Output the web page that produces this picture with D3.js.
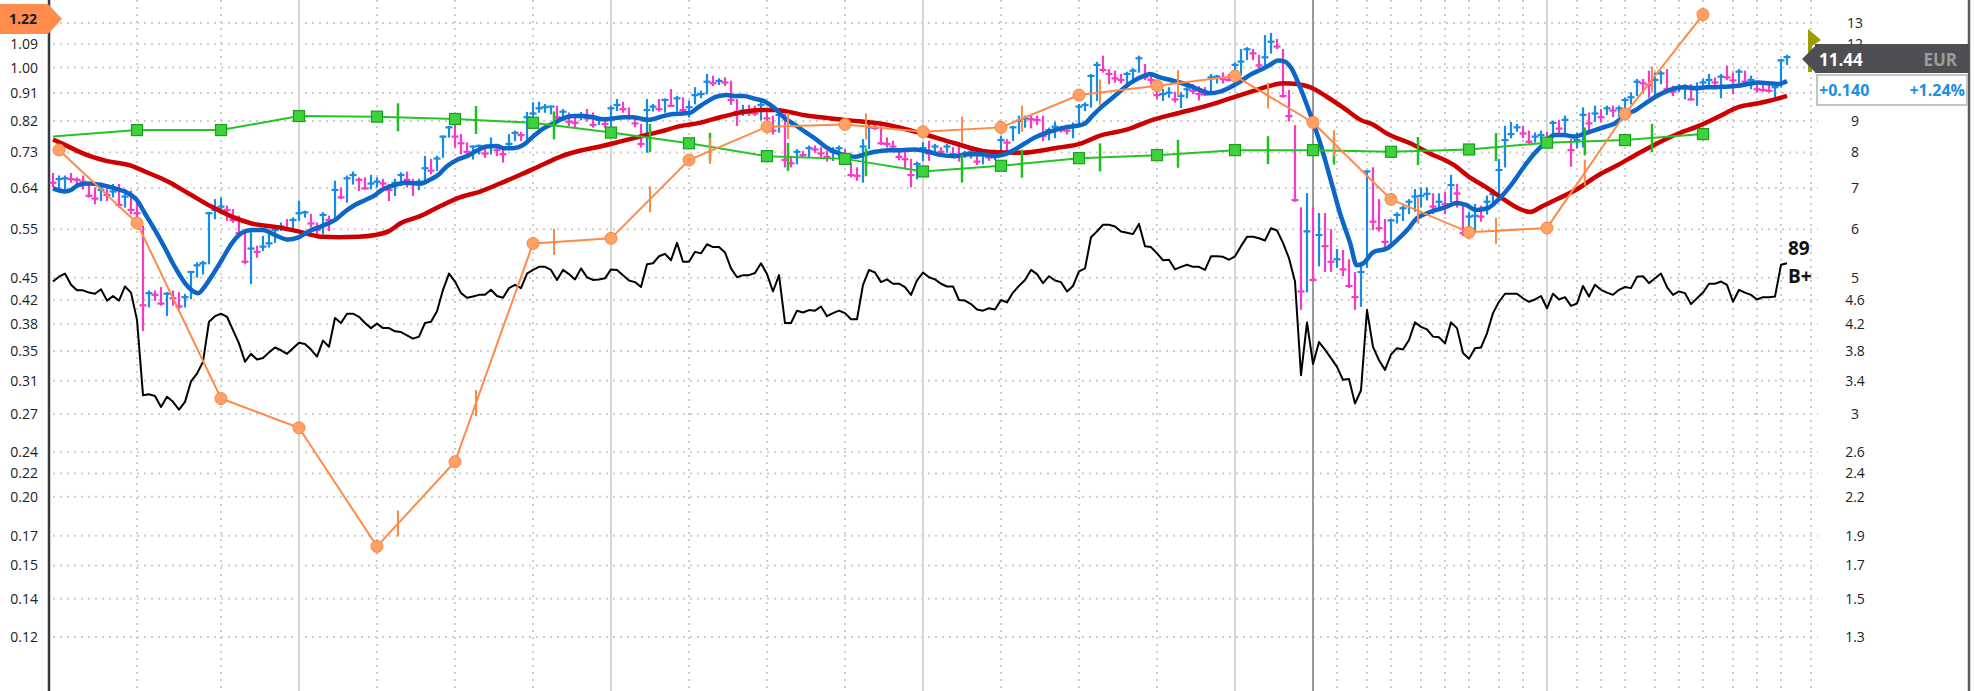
<!DOCTYPE html>
<html>
<head>
<meta charset="utf-8">
<script src="https://cdnjs.cloudflare.com/ajax/libs/d3/7.8.5/d3.min.js"></script>
<style>
  body { margin: 0; background: #fff; }
  svg { display: block; font-family: 'Open Sans', sans-serif; }
</style>
</head>
<body>
<script>
// price axis grid values and the matching EPS labels on the left
const rightTicks = [13, 12, 11, 10, 9, 8, 7, 6, 5, 4.6, 4.2, 3.8, 3.4, 3, 2.6, 2.4, 2.2, 1.9, 1.7, 1.5, 1.3];
// 11 and 10 sit under the price box, so they are left blank
const rightTickLabels = ['13', '12', '', '', '9', '8', '7', '6', '5', '4.6', '4.2', '3.8', '3.4', '3',
  '2.6', '2.4', '2.2', '1.9', '1.7', '1.5', '1.3'];
const leftTickLabels = ['', '1.09', '1.00', '0.91', '0.82', '0.73', '0.64', '0.55', '0.45', '0.42', '0.38',
  '0.35', '0.31', '0.27', '0.24', '0.22', '0.20', '0.17', '0.15', '0.14', '0.12'];
const epsRatio = 11;

// vertical grid, in week numbers
const quarterGrid = [14, 28, 54, 67, 80, 106, 119, 132, 158, 171, 184];
const yearGrid = [41, 93, 145, 197, 249];
const markGrid = [210];
const monthGrid = [214, 219, 223, 228, 232, 236, 241, 245, 254, 258, 262, 267, 271, 275, 280, 284, 288, 293];

// weekly bars
const priorClose = 7.25;
const barHigh = [
  7.38, 7.31, 7.31, 7.38, 7.26, 7.31, 7.08, 6.99, 7.12, 7.04,
  7.08, 7.08, 6.95, 6.91, 6.69, 6.06, 4.75, 4.75, 4.81, 4.72,
  4.75, 4.72, 4.69, 5.11, 5.28, 5.31, 6.37, 6.69, 6.73, 6.53,
  6.45, 6.29, 5.91, 5.91, 5.62, 5.83, 5.91, 6.06, 6.13, 6.21,
  6.25, 6.65, 6.41, 6.33, 6.13, 6.37, 6.29, 7.17, 6.99, 7.31,
  7.42, 7.26, 7.26, 7.33, 7.26, 7.22, 7.08, 7.22, 7.40, 7.42,
  7.22, 7.22, 7.87, 7.78, 7.87, 8.49, 8.81, 8.87, 8.54, 8.28,
  8.18, 8.21, 8.13, 8.43, 8.13, 8.07, 8.54, 8.65, 8.61, 9.28,
  9.62, 9.64, 9.56, 9.50, 9.50, 9.38, 9.26, 9.21, 9.28, 9.38,
  9.26, 9.09, 9.04, 9.50, 9.74, 9.64, 9.44, 9.09, 8.87, 9.74,
  9.56, 9.74, 9.76, 10.11, 9.86, 9.80, 9.68, 10.18, 10.05, 10.70,
  10.63, 10.53, 10.56, 10.43, 9.74, 9.53, 9.53, 9.50, 9.74, 9.26,
  9.15, 9.32, 9.21, 7.87, 8.07, 8.02, 8.18, 8.18, 8.13, 8.02,
  8.13, 8.18, 8.07, 7.68, 7.54, 8.38, 8.87, 8.90, 8.79, 8.43,
  8.33, 8.09, 8.02, 7.78, 7.70, 8.28, 8.33, 8.23, 8.13, 8.23,
  8.13, 8.28, 8.02, 8.07, 7.97, 7.97, 7.97, 8.02, 8.49, 8.38,
  8.81, 9.15, 9.15, 9.15, 9.15, 9.15, 8.75, 8.94, 8.81, 8.81,
  8.92, 9.56, 9.62, 10.70, 11.20, 11.46, 10.90, 10.83, 10.70, 10.79,
  10.93, 11.46, 11.11, 10.66, 10.14, 10.11, 10.18, 10.01, 9.99, 10.22,
  10.30, 10.22, 10.18, 10.70, 10.66, 10.76, 10.70, 11.17, 11.75, 11.83,
  11.75, 11.49, 12.38, 12.48, 12.20, 11.75, 10.08, 8.83, 6.49, 6.84,
  6.49, 6.35, 6.35, 5.98, 5.55, 5.53, 5.34, 5.09, 5.28, 7.45,
  7.54, 6.69, 6.21, 6.21, 6.37, 6.53, 6.69, 6.95, 6.99, 6.99,
  6.84, 6.84, 6.88, 7.33, 7.08, 6.61, 6.37, 6.57, 6.53, 6.78,
  6.95, 7.78, 8.81, 8.94, 8.87, 8.81, 8.65, 8.59, 8.65, 8.61,
  8.98, 9.01, 9.15, 8.38, 8.59, 9.44, 9.26, 9.50, 9.38, 9.50,
  9.50, 9.50, 9.80, 9.99, 10.50, 10.50, 10.83, 10.76, 10.83, 10.90,
  10.24, 10.30, 10.30, 10.30, 10.37, 10.50, 10.70, 10.56, 10.70, 11.04,
  10.76, 10.90, 10.83, 10.63, 10.43, 10.37, 10.30, 10.30, 11.32, 11.50,
];
const barLow = [
  7.04, 6.99, 6.95, 7.17, 7.12, 6.99, 6.78, 6.61, 6.69, 6.69,
  6.78, 6.53, 6.53, 6.37, 6.29, 4.11, 4.49, 4.60, 4.52, 4.35,
  4.52, 4.46, 4.49, 4.63, 5.02, 5.08, 5.28, 6.25, 6.37, 6.21,
  6.17, 5.91, 5.28, 4.90, 5.41, 5.55, 5.62, 5.72, 5.98, 5.98,
  5.98, 6.21, 6.29, 6.06, 5.91, 5.91, 5.98, 6.21, 6.74, 6.65,
  7.12, 6.95, 6.99, 6.99, 7.04, 6.95, 6.69, 6.82, 7.08, 7.04,
  6.82, 6.97, 7.22, 7.40, 7.49, 7.87, 8.49, 8.18, 7.97, 7.92,
  7.82, 7.97, 7.87, 7.97, 7.92, 7.73, 8.18, 8.38, 8.38, 8.41,
  9.15, 9.32, 9.32, 9.26, 9.09, 9.04, 8.87, 8.81, 9.06, 9.02,
  8.81, 8.90, 8.81, 8.81, 9.38, 9.32, 9.09, 8.83, 8.18, 8.02,
  9.36, 9.36, 9.32, 9.53, 9.36, 9.32, 9.15, 9.62, 9.84, 9.99,
  10.30, 10.34, 10.30, 9.60, 8.87, 9.21, 9.21, 9.21, 9.06, 8.81,
  8.59, 8.65, 7.59, 7.59, 7.68, 7.87, 7.89, 8.02, 7.89, 7.76,
  7.78, 7.87, 7.85, 7.31, 7.22, 7.17, 8.13, 8.74, 8.26, 8.18,
  8.13, 7.80, 7.54, 7.04, 7.26, 7.78, 7.78, 7.99, 7.92, 8.02,
  7.87, 7.76, 7.87, 7.85, 7.66, 7.68, 7.78, 7.80, 8.07, 8.05,
  8.38, 8.61, 8.81, 8.79, 8.90, 8.38, 8.40, 8.47, 8.65, 8.59,
  8.47, 8.92, 9.38, 9.50, 9.74, 10.83, 10.37, 10.43, 10.40, 10.30,
  10.50, 10.83, 10.53, 10.37, 9.80, 9.74, 9.86, 9.68, 9.48, 9.84,
  9.99, 9.76, 9.92, 9.96, 10.40, 10.40, 10.48, 10.56, 10.72, 11.35,
  11.35, 11.01, 11.15, 11.63, 11.83, 9.86, 9.02, 6.67, 4.45, 4.75,
  4.95, 5.24, 5.13, 5.13, 5.21, 5.05, 4.83, 4.45, 4.50, 5.21,
  6.00, 5.97, 5.60, 5.68, 6.15, 6.21, 6.37, 6.43, 6.53, 6.71,
  6.37, 6.51, 6.37, 6.67, 6.53, 5.87, 5.91, 5.98, 6.19, 6.36,
  6.60, 6.69, 7.59, 8.47, 8.68, 8.47, 8.30, 8.33, 8.36, 8.28,
  8.47, 8.59, 8.59, 7.61, 8.16, 8.18, 8.68, 9.01, 8.98, 9.24,
  9.17, 9.17, 9.36, 9.62, 9.92, 10.01, 9.86, 9.96, 10.37, 10.11,
  9.92, 10.08, 9.80, 9.76, 9.56, 10.14, 10.30, 10.22, 9.84, 10.53,
  9.99, 10.34, 10.27, 10.18, 10.05, 10.08, 10.05, 9.80, 10.24, 11.15,
];
const barClose = [
  7.14, 7.24, 7.26, 7.24, 7.22, 7.17, 6.80, 6.73, 6.95, 6.82,
  6.91, 6.57, 6.78, 6.45, 6.37, 4.51, 4.72, 4.69, 4.54, 4.71,
  4.63, 4.49, 4.65, 5.11, 5.24, 5.28, 6.37, 6.45, 6.53, 6.45,
  6.21, 5.91, 5.31, 5.58, 5.51, 5.62, 5.69, 5.98, 6.06, 6.02,
  6.21, 6.37, 6.39, 6.13, 5.98, 6.33, 6.21, 6.95, 6.76, 7.26,
  7.35, 7.22, 6.99, 7.12, 7.17, 7.12, 6.95, 7.14, 7.35, 7.22,
  7.14, 7.17, 7.54, 7.47, 7.82, 8.49, 8.79, 8.49, 8.28, 8.02,
  8.18, 8.20, 7.97, 8.18, 8.07, 7.95, 8.26, 8.61, 8.54, 9.13,
  9.26, 9.44, 9.48, 9.50, 9.13, 9.32, 8.98, 8.94, 9.21, 9.09,
  8.87, 9.04, 8.90, 9.44, 9.56, 9.41, 9.15, 8.92, 8.26, 9.38,
  9.50, 9.41, 9.74, 9.53, 9.80, 9.38, 9.48, 9.92, 9.96, 10.43,
  10.37, 10.46, 10.40, 9.74, 9.32, 9.36, 9.28, 9.26, 9.56, 9.09,
  8.68, 9.21, 7.78, 7.68, 8.02, 7.92, 8.13, 8.09, 7.97, 7.87,
  8.02, 8.13, 7.95, 7.35, 7.33, 8.18, 8.79, 8.77, 8.28, 8.26,
  8.18, 7.87, 7.80, 7.35, 7.66, 8.13, 7.97, 8.18, 8.02, 8.18,
  7.95, 7.89, 7.97, 8.02, 7.73, 7.92, 7.85, 7.95, 8.38, 8.30,
  8.79, 9.01, 9.09, 9.06, 9.04, 8.51, 8.70, 8.81, 8.70, 8.68,
  8.81, 9.50, 9.56, 10.66, 11.11, 10.90, 10.74, 10.56, 10.50, 10.74,
  10.87, 11.39, 10.60, 10.50, 9.92, 9.96, 10.01, 9.76, 9.89, 10.14,
  10.08, 9.96, 9.94, 10.60, 10.63, 10.53, 10.50, 11.11, 11.25, 11.78,
  11.60, 11.09, 11.43, 12.12, 11.90, 9.89, 9.17, 6.69, 4.75, 5.95,
  4.96, 5.87, 5.63, 5.31, 5.36, 5.16, 4.85, 4.65, 5.11, 7.45,
  6.17, 6.02, 5.72, 6.20, 6.33, 6.49, 6.65, 6.78, 6.80, 6.85,
  6.53, 6.65, 6.59, 7.08, 6.86, 5.91, 6.29, 6.31, 6.29, 6.65,
  6.84, 7.49, 8.38, 8.57, 8.79, 8.59, 8.33, 8.49, 8.54, 8.36,
  8.94, 8.75, 9.04, 8.07, 8.38, 9.21, 8.92, 9.26, 9.13, 9.44,
  9.36, 9.44, 9.74, 9.84, 10.43, 10.37, 10.30, 10.50, 10.76, 10.14,
  10.05, 10.22, 10.24, 9.76, 10.22, 10.40, 10.50, 10.40, 10.63, 10.60,
  10.48, 10.83, 10.43, 10.50, 10.14, 10.11, 10.08, 10.22, 11.30, 11.44,
];

// relative strength line, read against the price axis
const rsLine = [
  4.93, 5.02, 5.08, 4.87, 4.77, 4.77, 4.73, 4.71, 4.79, 4.59,
  4.67, 4.59, 4.84, 4.73, 4.27, 3.22, 3.23, 3.21, 3.08, 3.20,
  3.14, 3.05, 3.14, 3.39, 3.49, 3.65, 4.24, 4.33, 4.37, 4.32,
  4.11, 3.91, 3.65, 3.76, 3.68, 3.70, 3.78, 3.85, 3.81, 3.76,
  3.84, 3.92, 3.90, 3.82, 3.72, 3.95, 3.86, 4.30, 4.22, 4.37,
  4.37, 4.32, 4.22, 4.14, 4.21, 4.14, 4.14, 4.09, 4.08, 4.03,
  3.98, 4.01, 4.22, 4.24, 4.41, 4.78, 5.08, 4.93, 4.72, 4.64,
  4.66, 4.69, 4.69, 4.78, 4.67, 4.64, 4.81, 4.87, 4.81, 5.08,
  5.15, 5.21, 5.21, 5.15, 4.96, 5.15, 5.07, 4.97, 5.18, 5.01,
  4.96, 4.97, 4.99, 5.16, 5.15, 5.05, 4.95, 4.92, 4.83, 5.26,
  5.28, 5.42, 5.47, 5.34, 5.70, 5.31, 5.31, 5.51, 5.48, 5.67,
  5.61, 5.61, 5.50, 5.18, 5.01, 5.05, 5.05, 5.09, 5.28, 5.07,
  4.75, 5.05, 4.22, 4.22, 4.42, 4.39, 4.43, 4.42, 4.49, 4.33,
  4.38, 4.42, 4.38, 4.28, 4.28, 4.87, 5.15, 5.10, 4.92, 4.97,
  4.89, 4.89, 4.83, 4.69, 4.95, 5.10, 5.01, 4.97, 4.89, 4.84,
  4.84, 4.60, 4.59, 4.53, 4.44, 4.42, 4.46, 4.44, 4.60, 4.56,
  4.73, 4.85, 4.96, 5.15, 5.07, 4.90, 5.03, 4.95, 4.92, 4.75,
  4.85, 5.12, 5.18, 5.82, 5.95, 6.10, 6.10, 6.06, 5.95, 5.92,
  5.89, 6.12, 5.63, 5.61, 5.48, 5.34, 5.35, 5.16, 5.21, 5.25,
  5.21, 5.21, 5.15, 5.42, 5.42, 5.41, 5.35, 5.42, 5.63, 5.83,
  5.83, 5.80, 5.75, 6.02, 5.97, 5.70, 5.38, 4.93, 3.47, 4.23,
  3.62, 3.93, 3.82, 3.70, 3.58, 3.41, 3.42, 3.12, 3.28, 4.43,
  3.86, 3.67, 3.54, 3.75, 3.84, 3.82, 3.96, 4.23, 4.16, 4.12,
  4.01, 4.00, 3.91, 4.23, 4.14, 3.77, 3.69, 3.84, 3.85, 4.06,
  4.38, 4.57, 4.71, 4.71, 4.71, 4.63, 4.57, 4.61, 4.67, 4.46,
  4.71, 4.61, 4.65, 4.50, 4.54, 4.85, 4.66, 4.87, 4.78, 4.73,
  4.69, 4.78, 4.83, 4.81, 5.02, 5.03, 4.90, 4.99, 5.08, 4.83,
  4.69, 4.75, 4.72, 4.53, 4.63, 4.73, 4.89, 4.89, 4.93, 4.87,
  4.57, 4.78, 4.73, 4.69, 4.61, 4.65, 4.65, 4.66, 5.25, 5.28,
];

// moving averages, [week, price]
const ma10Points = [
  [0, 6.99], [2, 6.91], [3, 6.95], [4.2, 7.08], [5.9, 7.12], [8.1, 7.08], [10.3, 6.99], [12.6, 6.86],
  [14, 6.69], [15.3, 6.37], [17, 5.98], [18.7, 5.58], [20.3, 5.21], [22, 4.90], [23.4, 4.75], [24.2, 4.72],
  [25.3, 4.84], [26.4, 5.02], [28.1, 5.34], [29.8, 5.69], [31.4, 5.91], [33.1, 5.98], [35, 5.98], [37, 5.87],
  [39.2, 5.77], [40.9, 5.82], [42.6, 5.95], [44.8, 6.07], [47, 6.21], [48.7, 6.41], [50.3, 6.57], [52, 6.69],
  [53.7, 6.82], [54.8, 6.95], [57, 7.08], [58.7, 7.14], [61.2, 7.12], [62.8, 7.22], [64.2, 7.35], [65.6, 7.59],
  [67.3, 7.78], [69, 7.89], [70.6, 8.05], [72.3, 8.18], [74, 8.20], [75.1, 8.13], [76.7, 8.13], [78.4, 8.23],
  [80, 8.49], [81.7, 8.75], [83.4, 8.92], [85, 9.09], [86.7, 9.17], [88.4, 9.17], [90, 9.13], [91.7, 9.06],
  [93.4, 9.09], [95.1, 9.13], [96.7, 9.13], [97.8, 9.09], [99, 9.04], [100.1, 9.07], [101.7, 9.17], [103.4, 9.24],
  [105, 9.26], [106.2, 9.28], [107.3, 9.44], [109, 9.68], [110.6, 9.86], [112.3, 9.92], [113.4, 9.89], [115.1, 9.89],
  [116.7, 9.80], [118.7, 9.68], [120.3, 9.44], [122, 9.09], [123.7, 8.87], [125.3, 8.65], [127, 8.43], [128.7, 8.18],
  [130.3, 8.02], [132, 7.92], [133.7, 7.87], [135.3, 7.95], [137, 8.02], [139.2, 8.07], [141.4, 8.07], [143.7, 8.09],
  [145.9, 8.02], [148.1, 7.92], [150.3, 7.89], [152.6, 7.95], [154.8, 7.95], [157, 7.89], [158.7, 7.95], [160.3, 8.09],
  [162, 8.28], [163.7, 8.47], [165.3, 8.59], [167, 8.70], [168.7, 8.79], [170.3, 8.83], [172, 8.92], [173.1, 9.15],
  [174.8, 9.50], [176.2, 9.75], [177.8, 10.05], [179.5, 10.37], [181.8, 10.66], [182.8, 10.74], [184.5, 10.60],
  [186.2, 10.50], [187.8, 10.40], [189.5, 10.27], [191.2, 10.11], [192.8, 9.99], [194.5, 10.05], [196.2, 10.22],
  [197.8, 10.43], [199.5, 10.70], [201.2, 10.90], [202.8, 11.11], [204.2, 11.29], [205.3, 11.25], [206.4, 10.97],
  [207.8, 10.24], [209.5, 9.26], [211.2, 8.28], [212.8, 7.31], [214.5, 6.37], [216.2, 5.69], [217.3, 5.24],
  [218.4, 5.28], [220.1, 5.51], [222.3, 5.58], [224, 5.76], [225.7, 5.98], [227.3, 6.25], [229, 6.37], [230.6, 6.45],
  [232.3, 6.53], [234, 6.62], [235.5, 6.57], [237.2, 6.45], [239.1, 6.49], [240.8, 6.69], [243, 7.08], [245.2, 7.59],
  [246.9, 7.97], [248.6, 8.28], [250.2, 8.54], [251.9, 8.54], [253.6, 8.49], [255.3, 8.59], [257, 8.70], [258.7, 8.81],
  [260.3, 8.92], [262, 9.21], [263.8, 9.38], [265.4, 9.62], [267.1, 9.86], [268.8, 10.05], [270.4, 10.18],
  [272.1, 10.22], [273.8, 10.18], [275.5, 10.22], [277.1, 10.22], [278.8, 10.24], [280.9, 10.27], [282.5, 10.34],
  [284.2, 10.40], [285.9, 10.37], [287.5, 10.34], [289, 10.46],
];
const ma40Points = [
  [0, 8.40], [2, 8.23], [5.3, 7.95], [8.7, 7.76], [13.1, 7.61], [15.3, 7.45], [19.2, 7.17], [22.6, 6.86],
  [26.4, 6.53], [29.8, 6.29], [33.1, 6.13], [37.6, 6.04], [40.9, 5.95], [44.8, 5.83], [47.6, 5.82], [50.9, 5.83],
  [53.7, 5.87], [55.9, 5.95], [58, 6.14], [61.2, 6.30], [64.5, 6.54], [67.8, 6.76], [71.2, 6.91], [74.5, 7.12],
  [77.8, 7.35], [81.2, 7.61], [84.5, 7.87], [87.8, 8.05], [91.2, 8.18], [94.5, 8.33], [97.8, 8.49], [101.2, 8.65],
  [104.5, 8.83], [107.8, 8.94], [111.2, 9.13], [114.5, 9.29], [117.8, 9.38], [120.3, 9.38], [125.3, 9.20],
  [132, 9.04], [139.2, 8.87], [144.8, 8.59], [150.3, 8.28], [155.9, 8.02], [161.4, 7.99], [167, 8.13],
  [171.4, 8.28], [174.8, 8.54], [176.5, 8.61], [179.5, 8.75], [182.8, 9.01], [187.3, 9.26], [191.8, 9.50],
  [196.2, 9.80], [200.1, 10.08], [202.8, 10.27], [205, 10.37], [207.3, 10.34], [209.5, 10.22], [212.3, 9.86],
  [215.2, 9.44], [217.9, 9.04], [220.1, 8.87], [222.3, 8.59], [226.2, 8.28], [229.5, 7.97], [233.4, 7.64],
  [236, 7.30], [238.7, 7.04], [242, 6.69], [244.2, 6.49], [246.2, 6.40], [248.1, 6.53], [250.9, 6.73],
  [254.2, 6.99], [257.6, 7.35], [260.9, 7.64], [264.2, 7.97], [267.6, 8.30], [270.9, 8.59], [274.2, 8.83],
  [277.6, 9.15], [280.9, 9.48], [284.2, 9.62], [287.6, 9.80], [289, 9.89],
];

// quarterly EPS (left axis) and the green quarterly series (price axis)
const epsWeeks = [1, 14, 28, 41, 54, 67, 80, 93, 106, 119, 132, 145, 158, 171, 184, 197, 210, 223, 236, 249, 262, 275];
const epsValues = [0.734, 0.558, 0.289, 0.259, 0.166, 0.228, 0.517, 0.527, 0.707, 0.801, 0.808,
  0.786, 0.799, 0.902, 0.934, 0.969, 0.814, 0.610, 0.539, 0.548, 0.840, 1.22];
const greenWeeks = [0, 14, 28, 41, 54, 67, 80, 93, 106, 119, 132, 145, 158, 171, 184, 197, 210, 223, 236, 249, 262, 275];
const greenValues = [8.49, 8.70, 8.70, 9.17, 9.15, 9.07, 8.94, 8.62, 8.28, 7.89, 7.81,
  7.45, 7.61, 7.83, 7.92, 8.07, 8.07, 8.02, 8.09, 8.30, 8.38, 8.57];
const reportWeeks = [57.5, 70.5, 83.5, 99.5, 109.5, 122.5, 135.5, 151.5, 161.5, 174.5, 187.5,
  202.5, 213.5, 227.5, 240.5, 255.3, 266.5];

const lastPrice = '11.44';
const currency = 'EUR';
const change = '+0.140';
const changePct = '+1.24%';
const epsLatest = '1.22';
const rsRating = '89';
const compRating = 'B+';

const width = 1974;
const height = 691;
const upColor = '#178ce6';
const downColor = '#f53bc6';

const svg = d3.select('body').append('svg')
  .attr('width', width)
  .attr('height', height);

const x = d3.scaleLinear().domain([0, 289]).range([53, 1787]);
const y = d3.scaleLog().domain([1.3, 13]).range([637, 23]);
const yEps = d3.scaleLog().domain([1.3 / epsRatio, 13 / epsRatio]).range([637, 23]);

// grid
const grid = svg.append('g');
grid.selectAll('.hgrid')
  .data(rightTicks)
  .enter().append('line')
  .attr('x1', 53).attr('x2', 1818)
  .attr('y1', d => y(d)).attr('y2', d => y(d))
  .attr('stroke', '#cdcdcd').attr('stroke-width', 2)
  .attr('stroke-dasharray', '2,5');

grid.selectAll('.vdot')
  .data(quarterGrid.concat(monthGrid))
  .enter().append('line')
  .attr('x1', d => x(d)).attr('x2', d => x(d))
  .attr('y1', 0).attr('y2', height)
  .attr('stroke', '#cdcdcd').attr('stroke-width', 2)
  .attr('stroke-dasharray', '2,5');

grid.selectAll('.vyear')
  .data(yearGrid)
  .enter().append('line')
  .attr('x1', d => x(d)).attr('x2', d => x(d))
  .attr('y1', 0).attr('y2', height)
  .attr('stroke', '#d6d6d6').attr('stroke-width', 2);

grid.selectAll('.vmark')
  .data(markGrid)
  .enter().append('line')
  .attr('x1', d => x(d)).attr('x2', d => x(d))
  .attr('y1', 0).attr('y2', height)
  .attr('stroke', '#9a9a9a').attr('stroke-width', 2);

// axes
const leftAxis = d3.axisLeft(y)
  .tickValues(rightTicks)
  .tickFormat((d, i) => leftTickLabels[i])
  .tickSize(0)
  .tickPadding(11);
const leftG = svg.append('g')
  .attr('transform', 'translate(49,0)')
  .call(leftAxis);
leftG.select('.domain').remove();
leftG.selectAll('text')
  .attr('font-family', 'Open Sans').attr('font-size', 14).attr('fill', '#222');

const rightAxis = d3.axisRight(y)
  .tickValues(rightTicks)
  .tickFormat((d, i) => rightTickLabels[i])
  .tickSize(0)
  .tickPadding(0);
const rightG = svg.append('g')
  .attr('transform', 'translate(1855,0)')
  .call(rightAxis);
rightG.select('.domain').remove();
rightG.selectAll('text')
  .attr('text-anchor', 'middle')
  .attr('font-family', 'Open Sans').attr('font-size', 14).attr('fill', '#222');

svg.append('line')
  .attr('x1', 49).attr('x2', 49).attr('y1', 0).attr('y2', height)
  .attr('stroke', '#353a40').attr('stroke-width', 2.5);
svg.append('line')
  .attr('x1', 1969).attr('x2', 1969).attr('y1', 0).attr('y2', height)
  .attr('stroke', '#5a5a5a').attr('stroke-width', 2.5);

// relative strength line
svg.append('path')
  .datum(rsLine)
  .attr('fill', 'none')
  .attr('stroke', '#000')
  .attr('stroke-width', 2)
  .attr('stroke-linejoin', 'round')
  .attr('d', d3.line().x((d, i) => x(i)).y(d => y(d)));

// weekly bars
const bars = svg.append('g')
  .selectAll('g')
  .data(d3.range(barClose.length))
  .enter().append('g')
  .attr('stroke', (i) => {
    const prev = i === 0 ? priorClose : barClose[i - 1];
    return barClose[i] >= prev ? upColor : downColor;
  })
  .attr('stroke-width', 2.2);
bars.append('line')
  .attr('x1', i => x(i)).attr('x2', i => x(i))
  .attr('y1', i => y(barHigh[i]) - 1).attr('y2', i => y(barLow[i]) + 1);
bars.append('line')
  .attr('x1', i => x(i) - 3.5).attr('x2', i => x(i) + 3.5)
  .attr('y1', i => y(barClose[i])).attr('y2', i => y(barClose[i]));

// moving averages
const maLine = d3.line()
  .x(d => x(d[0]))
  .y(d => y(d[1]))
  .curve(d3.curveMonotoneX);
svg.append('path')
  .datum(ma40Points)
  .attr('fill', 'none')
  .attr('stroke', '#cc0000')
  .attr('stroke-width', 4.5)
  .attr('d', maLine);
svg.append('path')
  .datum(ma10Points)
  .attr('fill', 'none')
  .attr('stroke', '#0b66c8')
  .attr('stroke-width', 4.5)
  .attr('d', maLine);

// value of a quarterly series at a fractional week
const interpAt = (weeks, values, w) => {
  const j = Math.min(d3.bisectRight(weeks, w) - 1, weeks.length - 2);
  const t = (w - weeks[j]) / (weeks[j + 1] - weeks[j]);
  return Math.exp((Math.log(values[j]) * (1 - t)) + (Math.log(values[j + 1]) * t));
};

// green quarterly series
svg.append('path')
  .datum(greenWeeks)
  .attr('fill', 'none')
  .attr('stroke', '#25c425')
  .attr('stroke-width', 2)
  .attr('d', d3.line().x(d => x(d)).y((d, i) => y(greenValues[i])));
svg.selectAll('.gtick')
  .data(reportWeeks)
  .enter().append('line')
  .attr('x1', d => x(d)).attr('x2', d => x(d))
  .attr('y1', d => y(interpAt(greenWeeks, greenValues, d)) - 14)
  .attr('y2', d => y(interpAt(greenWeeks, greenValues, d)) + 14)
  .attr('stroke', '#1fbf1f')
  .attr('stroke-width', 2.5);
svg.selectAll('.gsq')
  .data(greenWeeks.slice(1))
  .enter().append('rect')
  .attr('x', d => x(d) - 5.5)
  .attr('y', (d, i) => y(greenValues[i + 1]) - 5.5)
  .attr('width', 11).attr('height', 11)
  .attr('fill', '#3fd23f')
  .attr('stroke', '#18a018')
  .attr('stroke-width', 1.2);

// EPS line
svg.append('path')
  .datum(epsWeeks)
  .attr('fill', 'none')
  .attr('stroke', '#ff8a48')
  .attr('stroke-width', 2)
  .attr('d', d3.line().x(d => x(d)).y((d, i) => yEps(epsValues[i])));
svg.selectAll('.otick')
  .data(reportWeeks)
  .enter().append('line')
  .attr('x1', d => x(d)).attr('x2', d => x(d))
  .attr('y1', d => yEps(interpAt(epsWeeks, epsValues, d)) - 13)
  .attr('y2', d => yEps(interpAt(epsWeeks, epsValues, d)) + 13)
  .attr('stroke', '#ff8a48')
  .attr('stroke-width', 2);
svg.selectAll('.odot')
  .data(epsWeeks)
  .enter().append('circle')
  .attr('cx', d => x(d))
  .attr('cy', (d, i) => yEps(epsValues[i]))
  .attr('r', 6)
  .attr('fill', '#ffa166')
  .attr('stroke', '#f58540')
  .attr('stroke-width', 1);

// ratings next to the RS line
svg.append('text')
  .attr('x', 1788).attr('y', 255)
  .attr('font-size', 19).attr('font-weight', 'bold').attr('fill', '#111')
  .text(rsRating);
svg.append('text')
  .attr('x', 1788).attr('y', 283)
  .attr('font-size', 19).attr('font-weight', 'bold').attr('fill', '#111')
  .text(compRating);

// latest EPS flag on the left
svg.append('path')
  .attr('d', 'M0,4 H48 L62,19 L48,34 H0 Z')
  .attr('fill', '#ff8c4c');
svg.append('text')
  .attr('x', 23).attr('y', 24)
  .attr('text-anchor', 'middle')
  .attr('font-size', 14).attr('font-weight', 'bold').attr('fill', '#1a1a1a')
  .text(epsLatest);

// last price marker on the right
svg.append('path')
  .attr('d', 'M1808,29 L1821,40 L1812,46 V72 H1808 Z')
  .attr('fill', '#9c9c00');
svg.append('path')
  .attr('d', 'M1802,59 L1815,46 V44 H1969 V73 H1815 V72 Z')
  .attr('fill', '#4f4f53');
svg.append('text')
  .attr('x', 1819).attr('y', 66)
  .attr('font-size', 17).attr('font-weight', 'bold').attr('fill', '#fff')
  .text(lastPrice);
svg.append('text')
  .attr('x', 1957).attr('y', 66)
  .attr('text-anchor', 'end')
  .attr('font-size', 17).attr('font-weight', 'bold').attr('fill', '#9b9b9b')
  .text(currency);
svg.append('rect')
  .attr('x', 1817).attr('y', 75)
  .attr('width', 150).attr('height', 30)
  .attr('fill', '#fff')
  .attr('stroke', '#c4c4c4')
  .attr('stroke-width', 2);
svg.append('text')
  .attr('x', 1819).attr('y', 96)
  .attr('font-size', 16).attr('font-weight', 'bold').attr('fill', '#1b8ee6')
  .text(change);
svg.append('text')
  .attr('x', 1965).attr('y', 96)
  .attr('text-anchor', 'end')
  .attr('font-size', 16).attr('font-weight', 'bold').attr('fill', '#1b8ee6')
  .text(changePct);
</script>
</body>
</html>
